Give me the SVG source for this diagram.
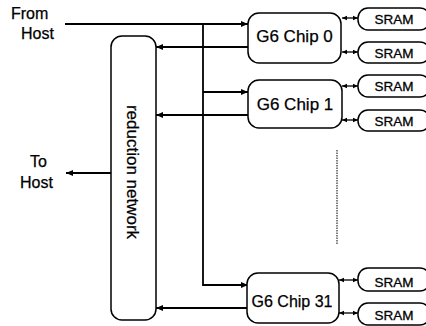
<svg xmlns="http://www.w3.org/2000/svg" width="426" height="326" viewBox="0 0 426 326">
<defs>
<marker id="ah" markerUnits="userSpaceOnUse" markerWidth="8" markerHeight="8" refX="7" refY="4" orient="auto">
<path d="M0,1 L7,4 L0,7 Z" fill="#000"/>
</marker>
<marker id="sh" markerUnits="userSpaceOnUse" markerWidth="6" markerHeight="6" refX="5" refY="3" orient="auto-start-reverse">
<path d="M0,0.8 L5,3 L0,5.2 Z" fill="#000"/>
</marker>
</defs>
<style>
.box{fill:#fff;stroke:#000;stroke-width:1.5}
.ln{fill:none;stroke:#000;stroke-width:1.8}
.ar{marker-end:url(#ah)}
.dbl{fill:none;stroke:#000;stroke-width:1.3;marker-start:url(#sh);marker-end:url(#sh)}
.lbl{font-family:"Liberation Sans",Arial,sans-serif;font-size:16px;fill:#000;stroke:#000;stroke-width:0.25}
.chip{font-family:"Liberation Sans",Arial,sans-serif;font-size:17px;fill:#000;text-anchor:middle;stroke:#000;stroke-width:0.25}
.sram{font-family:"Liberation Sans",Arial,sans-serif;font-size:13.5px;fill:#000;text-anchor:middle;stroke:#000;stroke-width:0.3}
</style>
<g id="connectors">
<path class="ln ar" d="M65,24 H248"/>
<path class="ln ar" d="M203,24 V285 H248"/>
<path class="ln ar" d="M203,92 H248"/>
<path class="ln ar" d="M248,47 H156"/>
<path class="ln ar" d="M248,115 H156"/>
<path class="ln ar" d="M248,308 H156"/>
<path class="ln ar" d="M111,173 H66"/>
<path class="dbl" d="M342,18 H358"/>
<path class="dbl" d="M342,52 H358"/>
<path class="dbl" d="M342,86 H358"/>
<path class="dbl" d="M342,120 H358"/>
<path class="dbl" d="M339,280 H358"/>
<path class="dbl" d="M339,313 H358"/>
<path d="M337,150 V245" fill="none" stroke="#000" stroke-width="1" stroke-dasharray="1.5,1"/>
</g>
<g id="from-host"><text class="lbl" x="11" y="19">From</text><text class="lbl" x="21" y="39">Host</text></g>
<g id="to-host"><text class="lbl" x="30" y="167">To</text><text class="lbl" x="20" y="188">Host</text></g>
<g id="reduction-network">
<rect class="box" x="111" y="36" width="45" height="284" rx="11"/>
<text class="lbl" transform="translate(127,172) rotate(90)" text-anchor="middle" style="font-size:17px">reduction network</text>
</g>
<g id="chip0"><rect class="box" x="248" y="13" width="93" height="50" rx="11"/><text class="chip" x="294.5" y="42">G6 Chip 0</text></g>
<g id="chip1"><rect class="box" x="248" y="80" width="94" height="48" rx="11"/><text class="chip" x="295" y="110">G6 Chip 1</text></g>
<g id="chip31"><rect class="box" x="247" y="273" width="92" height="50" rx="11"/><text class="chip" x="292" y="307" style="font-size:16px">G6 Chip 31</text></g>
<g id="sram0a"><rect class="box" x="358" y="8" width="72" height="22" rx="10"/><text class="sram" x="394" y="24">SRAM</text></g>
<g id="sram0b"><rect class="box" x="358" y="42" width="72" height="21" rx="10"/><text class="sram" x="394" y="57.5">SRAM</text></g>
<g id="sram1a"><rect class="box" x="358" y="75" width="72" height="22" rx="10"/><text class="sram" x="394" y="91">SRAM</text></g>
<g id="sram1b"><rect class="box" x="358" y="110" width="72" height="21" rx="10"/><text class="sram" x="394" y="125.5">SRAM</text></g>
<g id="sram31a"><rect class="box" x="358" y="268" width="72" height="23" rx="10"/><text class="sram" x="394" y="287">SRAM</text></g>
<g id="sram31b"><rect class="box" x="358" y="303" width="72" height="22" rx="10"/><text class="sram" x="394" y="320">SRAM</text></g>
</svg>
